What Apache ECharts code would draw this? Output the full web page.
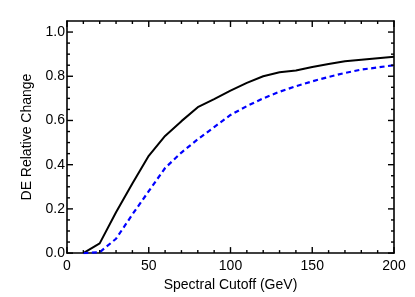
<!DOCTYPE html>
<html><head><meta charset="utf-8">
<script src="https://cdn.jsdelivr.net/npm/echarts@6/dist/echarts.min.js"></script>
<style>html,body{margin:0;padding:0;background:#fff}#c{width:415px;height:297px}</style>
</head><body><div id="c"></div>
<script>
const cutoff = [10,20,30,40,50,60,70,80,90,100,110,120,130,140,150,160,170,180,190,200];
const solidSeries = [0,0.044,0.185,0.315,0.44,0.53,0.597,0.66,0.697,0.735,0.77,0.80,0.818,0.826,0.842,0.855,0.868,0.875,0.882,0.888];
const dashedSeries = [0,0.004,0.065,0.175,0.28,0.385,0.455,0.515,0.57,0.625,0.665,0.70,0.73,0.755,0.777,0.797,0.815,0.83,0.84,0.85];
const xTicks = [0,50,100,150,200];
const xMinorTicks = [10,20,30,40,60,70,80,90,110,120,130,140,160,170,180,190];
const yTicks = [0.0,0.2,0.4,0.6,0.8,1.0];
const yMinorTicks = [0.05,0.1,0.15,0.25,0.3,0.35,0.45,0.5,0.55,0.65,0.7,0.75,0.85,0.9,0.95];

const font = 'Liberation Sans';
function xAx(pos, labels){
  return {type:'value', position:pos, min:0, max:200, interval:50,
    axisLine:{show:true, onZero:false, lineStyle:{color:'#000', width:1.6}}, splitLine:{show:false},
    axisTick:{show:false},
    axisLabel:{show:labels, color:'#000', fontFamily:font, fontSize:14, margin:6,
      formatter:v=>xTicks.includes(v)?String(v):''},
    name: labels?'Spectral Cutoff (GeV)':'', nameLocation:'middle', nameGap:22,
    nameTextStyle:{color:'#000', fontFamily:font, fontSize:14}};
}
function yAx(pos, labels){
  return {type:'value', position:pos, min:0, max:1.05, interval:0.2,
    axisLine:{show:true, onZero:false, lineStyle:{color:'#000', width:1.6}}, splitLine:{show:false},
    axisTick:{show:false},
    axisLabel:{show:labels, color:'#000', fontFamily:font, fontSize:14, margin:2,
      formatter:v=>{const i=yTicks.findIndex(t=>Math.abs(t-v)<1e-6);return i>=0?yTicks[i].toFixed(1):'';}},
    name: labels?'DE Relative Change':'', nameLocation:'middle', nameGap:29,
    nameTextStyle:{color:'#000', fontFamily:font, fontSize:14}};
}
// tick specs: [value, axis (0=x,1=y), length]
const tickData = []
  .concat(xTicks.map(v=>[v,0,6]), xMinorTicks.map(v=>[v,0,3]),
          yTicks.map(v=>[v,1,6]), yMinorTicks.map(v=>[v,1,3]));
function renderTick(params, api){
  const cs = params.coordSys;
  const v = api.value(0), axis = api.value(1), len = api.value(2);
  const st = {stroke:'#000', lineWidth:1.4, fill:null};
  if (axis === 0){
    const px = api.coord([v, 0])[0];
    const yb = cs.y + cs.height;
    return {type:'group', children:[
      {type:'line', shape:{x1:px, y1:yb, x2:px, y2:yb-len}, style:st},
      {type:'line', shape:{x1:px, y1:cs.y, x2:px, y2:cs.y+len}, style:st}]};
  }
  const py = api.coord([0, v])[1];
  const xr = cs.x + cs.width;
  return {type:'group', children:[
    {type:'line', shape:{x1:cs.x, y1:py, x2:cs.x+len, y2:py}, style:st},
    {type:'line', shape:{x1:xr, y1:py, x2:xr-len, y2:py}, style:st}]};
}
const chart = echarts.init(document.getElementById('c'), null, {renderer:'canvas'});
chart.setOption({
  animation:false,
  grid:{left:67, right:21, top:21, bottom:43, containLabel:false},
  xAxis:[xAx('bottom',true), xAx('top',false)],
  yAxis:[yAx('left',true), yAx('right',false)],
  series:[
    {type:'line', xAxisIndex:0, yAxisIndex:0, data:cutoff.map((x,i)=>[x,solidSeries[i]]), showSymbol:false,
      lineStyle:{color:'#000', width:2}},
    {type:'line', xAxisIndex:0, yAxisIndex:0, data:cutoff.map((x,i)=>[x,dashedSeries[i]]), showSymbol:false,
      lineStyle:{color:'#0000ff', width:2.2, type:[5,3.5]}},
    {type:'custom', xAxisIndex:0, yAxisIndex:0, silent:true, clip:false,
      data:tickData, renderItem:renderTick, z:5}
  ]
});
</script></body></html>
